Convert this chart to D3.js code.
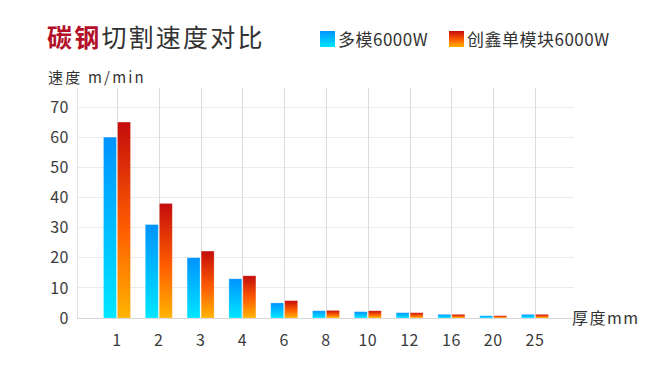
<!DOCTYPE html>
<html>
<head>
<meta charset="utf-8">
<script src="https://cdn.jsdelivr.net/npm/d3@7"></script>
<style>
  body { margin: 0; background: #fff; }
  text { font-family: "Noto Sans CJK SC", "Noto Sans", sans-serif; }
</style>
</head>
<body>
<script>
var thickness = ['1','2','3','4','6','8','10','12','16','20','25'];
var multiMode = [60, 31, 20, 13, 5, 2.4, 2.1, 1.75, 1.2, 0.75, 1.2];   // 多模6000W
var singleMode = [65, 38, 22.2, 14, 5.75, 2.5, 2.4, 1.75, 1.2, 0.75, 1.2]; // 创鑫单模块6000W
var yTicks = [0, 10, 20, 30, 40, 50, 60, 70];
var seriesNames = ['多模6000W', '创鑫单模块6000W'];

var width = 672, height = 376;
var margin = {left: 77, right: 98, top: 88, bottom: 58};

var svg = d3.select("body").append("svg")
    .attr("width", width).attr("height", height);

// gradients for the bars
var defs = svg.append("defs");
var gBlue = defs.append("linearGradient").attr("id", "gBlue")
    .attr("x1", 0).attr("y1", 0).attr("x2", 0).attr("y2", 1);
gBlue.append("stop").attr("offset", "0%").attr("stop-color", "#0093ff");
gBlue.append("stop").attr("offset", "100%").attr("stop-color", "#00e6ff");
var gRed = defs.append("linearGradient").attr("id", "gRed")
    .attr("x1", 0).attr("y1", 0).attr("x2", 0).attr("y2", 1);
gRed.append("stop").attr("offset", "0%").attr("stop-color", "#c40c0c");
gRed.append("stop").attr("offset", "55%").attr("stop-color", "#ff5e00");
gRed.append("stop").attr("offset", "100%").attr("stop-color", "#ffb400");

var y = d3.scaleLinear().domain([0, 70]).range([318, 107]);

// categories sit on the vertical grid lines
var x = d3.scalePoint().domain(thickness).range([117, 535]);
var sub = d3.scaleBand().domain([0, 1]).range([-13.5, 13.5]).paddingInner(0.08);

var chart = svg.append("g");

// horizontal grid
chart.append("g").selectAll("line").data(yTicks).join("line")
    .attr("x1", margin.left).attr("x2", 574)
    .attr("y1", function(d){ return y(d); })
    .attr("y2", function(d){ return y(d); })
    .attr("stroke", function(d){ return d === 0 ? "#d6d6d6" : "#ebebeb"; })
    .attr("stroke-width", 1)
    .attr("shape-rendering", "crispEdges");

// vertical grid, one at the left edge and one per category
chart.append("line")
    .attr("x1", margin.left).attr("x2", margin.left)
    .attr("y1", margin.top).attr("y2", y(0))
    .attr("stroke", "#e2e2e2").attr("shape-rendering", "crispEdges");
chart.append("g").selectAll("line").data(thickness).join("line")
    .attr("x1", function(d){ return Math.round(x(d)) + 0.5; })
    .attr("x2", function(d){ return Math.round(x(d)) + 0.5; })
    .attr("y1", margin.top).attr("y2", y(0))
    .attr("stroke", "#dcdcdc");

// bars
var fills = ["url(#gBlue)", "url(#gRed)"];
[multiMode, singleMode].forEach(function(values, s){
  chart.append("g").selectAll("rect").data(values).join("rect")
      .attr("x", function(d, i){ return x(thickness[i]) + sub(s); })
      .attr("width", sub.bandwidth())
      .attr("y", function(d){ return y(d); })
      .attr("height", function(d){ return y(0) - y(d); })
      .attr("fill", fills[s])
      .attr("stroke", "rgba(255,255,255,0.3)")
      .attr("stroke-width", 0.8);
});

// y tick labels
chart.append("g").selectAll("text").data(yTicks).join("text")
    .attr("x", 69)
    .attr("y", function(d){ return y(d); })
    .attr("dy", "0.36em")
    .attr("text-anchor", "end")
    .attr("font-size", 16)
    .attr("letter-spacing", 0.5)
    .attr("fill", "#3c3c3c")
    .text(function(d){ return d; });

// x tick labels
chart.append("g").selectAll("text").data(thickness).join("text")
    .attr("x", function(d){ return x(d); })
    .attr("y", 346)
    .attr("text-anchor", "middle")
    .attr("font-size", 16)
    .attr("letter-spacing", 0.5)
    .attr("fill", "#3c3c3c")
    .text(function(d){ return d; });

// axis titles
svg.append("text").attr("x", 48).attr("y", 83)
    .attr("font-size", 15).attr("letter-spacing", 2.2).attr("fill", "#333")
    .text("速度 m/min");
svg.append("text").attr("x", 572).attr("y", 324)
    .attr("font-size", 16).attr("letter-spacing", 1.5).attr("fill", "#333")
    .text("厚度mm");

// title
var title = svg.append("text").attr("x", 47).attr("y", 47).attr("font-size", 25).attr("letter-spacing", 2.2);
title.append("tspan").attr("font-weight", "bold").attr("fill", "#b3102a").text("碳钢");
title.append("tspan").attr("fill", "#333").text("切割速度对比");

// legend
var legendX = [320, 449];
seriesNames.forEach(function(name, s){
  svg.append("rect").attr("x", legendX[s]).attr("y", 31).attr("width", 15).attr("height", 16)
      .attr("fill", fills[s]);
  svg.append("text").attr("x", legendX[s] + 18).attr("y", 46)
      .attr("font-size", 17).attr("letter-spacing", 0.5).attr("fill", "#333")
      .text(name);
});
</script>
</body>
</html>
